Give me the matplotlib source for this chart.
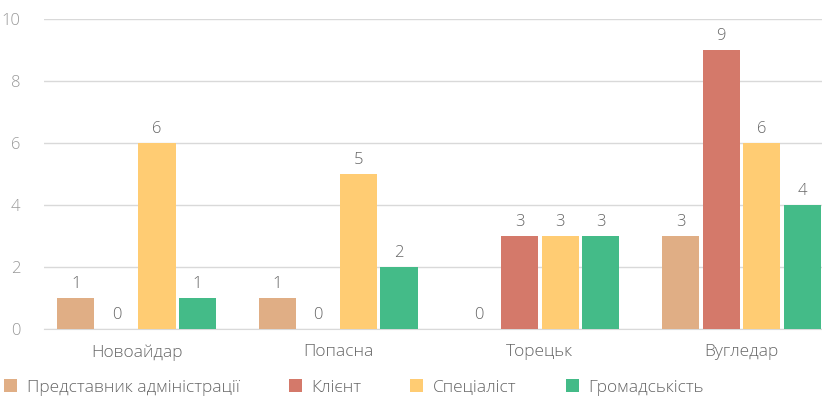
import matplotlib
matplotlib.use("Agg")
import matplotlib.pyplot as plt
import numpy as np

categories = ["Новоайдар", "Попасна", "Торецьк", "Вугледар"]
series_names = ["Представник адміністрації", "Клієнт", "Спеціаліст", "Громадськість"]
admin = [1, 1, 0, 3]
client = [0, 0, 3, 9]
specialist = [6, 5, 3, 6]
community = [1, 2, 3, 4]
colors = ["#E0AE85", "#D4796A", "#FFCC73", "#44BB88"]
yticks = [0, 2, 4, 6, 8, 10]

plt.rcParams['font.family'] = ['Open Sans', 'DejaVu Sans']

fig = plt.figure(figsize=(8.22, 4.0), dpi=100)
ax = fig.add_axes([44/822, 1-329/400, 1-44/822, 310/400])

x = np.arange(len(categories))
step = 0.201
width = 0.184
data = [admin, client, specialist, community]
for i, (vals, name, c) in enumerate(zip(data, series_names, colors)):
    pos = x + (i - 1.5) * step
    bars = ax.bar(pos, vals, width=width, color=c, label=name, zorder=3)
    for b, v in zip(bars, vals):
        ax.annotate(str(v), (b.get_x() + b.get_width()/2, v), xytext=(0, 4),
                    textcoords="offset points", ha="center", va="bottom",
                    fontsize=12, color="#666666", fontweight="light")

ax.set_xlim(-0.46, 3.40)
ax.set_ylim(0, 10)
ax.set_yticks(yticks)
ax.set_yticklabels([str(t) for t in yticks], fontsize=12, color="#999999", fontweight="light")
ax.set_xticks(x)
ax.set_xticklabels(categories, fontsize=12.5, color="#666666", fontweight="light")
ax.tick_params(axis="both", length=0)
ax.tick_params(axis="x", pad=11)
ax.tick_params(axis="y", pad=17)
ax.grid(axis="y", color="#D9D9D9", linewidth=1, zorder=0)
for s in ["top", "right", "left"]:
    ax.spines[s].set_visible(False)
ax.spines["bottom"].set_color("#D9D9D9")

leg = fig.legend(loc="lower left", bbox_to_anchor=(-0.014, -0.028), ncol=4, frameon=False,
                 fontsize=12.5, handlelength=0.75, handleheight=0.75, handletextpad=0.55,
                 columnspacing=2.83, labelcolor="#666666")
for t in leg.get_texts():
    t.set_fontweight("light")

fig.savefig("out.png", dpi=100)
